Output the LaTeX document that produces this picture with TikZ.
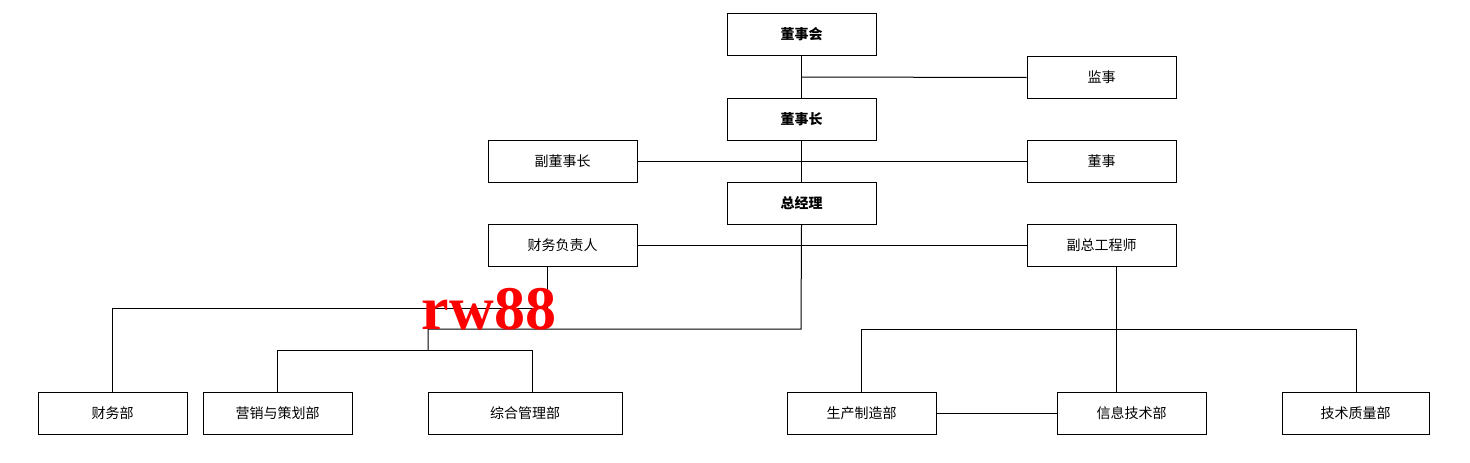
\documentclass[tikz,border=0pt]{standalone}
\usepackage{fontspec}
\newfontfamily\cjk{Noto Sans CJK SC}
\begin{document}
\begin{tikzpicture}[x=1pt,y=-1pt,line width=1pt,
 box/.style={draw,minimum height=42pt,inner sep=0pt,font=\cjk\fontsize{14}{16}\selectfont},
 bbox/.style={box,font=\cjk\bfseries\fontsize{14}{16}\selectfont}]
\useasboundingbox (0,0) rectangle (1470,463);
\newcommand\bx[6]{\node[#1,minimum width=#4-#3] (#2) at ({(#3+#4)/2},{#5}) {#6};}
\bx{bbox}{dsh}{727}{876}{34.5}{董事会}
\bx{box}{js}{1027}{1176}{77.5}{监事}
\bx{bbox}{dsz}{727}{876}{119.5}{董事长}
\bx{box}{fdsz}{488}{637}{161.5}{副董事长}
\bx{box}{ds}{1027}{1176}{161.5}{董事}
\bx{bbox}{zjl}{727}{876}{203.5}{总经理}
\bx{box}{cwfzr}{488}{637}{245.5}{财务负责人}
\bx{box}{fzgcs}{1027}{1176}{245.5}{副总工程师}
\bx{box}{cwb}{38}{187}{413.5}{财务部}
\bx{box}{yx}{203}{352}{413.5}{营销与策划部}
\bx{box}{zh}{428}{622}{413.5}{综合管理部}
\bx{box}{sc}{787}{936}{413.5}{生产制造部}
\bx{box}{xx}{1057}{1206}{413.5}{信息技术部}
\bx{box}{jszl}{1282}{1429}{413.5}{技术质量部}
\draw (dsh.south) -- (dsz.north);
\draw (801,77) -- (js.west);
\draw (dsz.south) -- (zjl.north);
\draw (fdsz.east) -- (ds.west);
\draw (cwfzr.east) -- (fzgcs.west);
\draw (zjl.south) -- (801,329) -- (428,329) -- (428,350);
\draw (yx.north) |- (532,350) -- (zh.north -| 532,0);
\draw (cwfzr.south -| 547,0) -- (547,308) -- (112,308) -- (cwb.north -| 112,0);
\draw (fzgcs.south -| 1116,0) -- (xx.north -| 1116,0);
\draw (sc.north -| 861,0) -- (861,329) -- (1356,329) -- (jszl.north -| 1356,0);
\draw (sc.east) -- (xx.west);
\node[text=red,font=\fontspec{Liberation Serif}\bfseries\fontsize{62}{62}\selectfont,inner sep=0pt] (wm) at (489,309) {rw88};
\end{tikzpicture}
\end{document}
